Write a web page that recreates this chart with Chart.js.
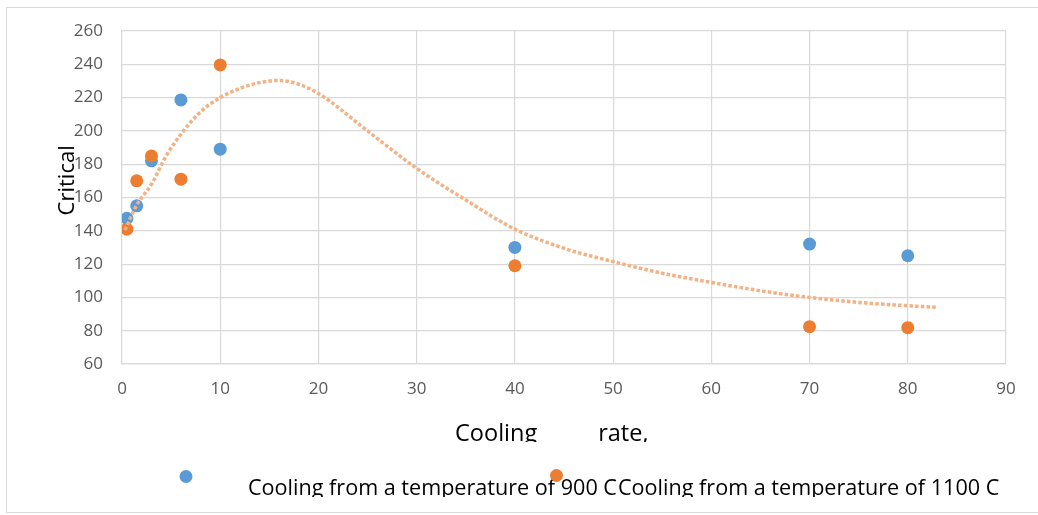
<!DOCTYPE html>
<html>
<head>
<meta charset="utf-8">
<script src="https://cdn.jsdelivr.net/npm/chart.js@4.4.1/dist/chart.umd.min.js"></script>
<style>
  html, body { margin: 0; padding: 0; background: #ffffff; }
  #wrap { width: 1038px; height: 515px; position: relative; }
</style>
</head>
<body>
<div id="wrap"><canvas id="c" width="1038" height="515"></canvas></div>
<script>
// ---- data ----
const coolingRates = [0.5, 1.5, 3, 6, 10, 40, 70, 80];
const critical900  = [147.5, 155, 182, 218.6, 189, 130, 132, 125];
const critical1100 = [141, 170, 185, 171, 239.6, 119, 82.4, 81.8];
const trendRates   = [0.3, 1.5, 3, 4.5, 6, 8, 10, 12, 14, 16, 18, 20, 25, 30, 35, 40, 45, 50, 55, 60, 65, 70, 75, 80, 83];
const trendValues  = [140.5, 155.5, 168, 185, 198, 211.5, 220, 225.5, 229, 230.3, 228, 222.5, 200, 177.5, 158.5, 141, 129.5, 121.5, 114.5, 109, 104, 100, 97, 95, 94];
const xTickValues  = [0, 10, 20, 30, 40, 50, 60, 70, 80, 90];
const yTickValues  = [60, 80, 100, 120, 140, 160, 180, 200, 220, 240, 260];
const seriesNames  = ['Cooling from a temperature of 900 C', 'Cooling from a temperature of 1100 C'];
const NB = '\u00A0';
const xTitle = 'Cooling' + ' '.repeat(10) + 'rate,' + NB.repeat(4);
const yTitle = NB.repeat(6) + 'Critical';

const pts = (xs, ys) => xs.map((x, i) => ({x: x, y: ys[i]}));

const BLUE = '#5B9BD5', ORANGE = '#ED7D31', TREND = '#F4B183';
const GRID = '#D9D9D9';
const FONT = "'Open Sans', 'Noto Sans', sans-serif";

const frameAndLegend = {
  id: 'frameAndLegend',
  beforeDraw(chart) {
    const ctx = chart.ctx;
    ctx.save();
    ctx.strokeStyle = GRID;
    ctx.lineWidth = 1;
    ctx.strokeRect(6.5, 7.5, 1100, 505);
    ctx.restore();
  },
  afterDraw(chart) {
    const ctx = chart.ctx;
    ctx.save();
    // mask mimicking the clipped x-axis title
    ctx.fillStyle = '#ffffff';
    ctx.fillRect(430, 442, 260, 12);
    // legend
    const items = [
      {dot: [186, 476.5], text: [248, 495], ds: 0},
      {dot: [556.5, 475.5], text: [618, 495], ds: 1}
    ];
    ctx.beginPath();
    ctx.rect(0, 0, 1038, 497);
    ctx.clip();
    items.forEach(it => {
      const ds = chart.data.datasets[it.ds];
      ctx.font = "21.6px " + FONT;
      ctx.fillStyle = '#000000';
      ctx.textBaseline = 'alphabetic';
      ctx.textAlign = 'left';
      ctx.fillText(ds.label, it.text[0], it.text[1]);
    });
    items.forEach(it => {
      const ds = chart.data.datasets[it.ds];
      ctx.fillStyle = ds.backgroundColor;
      ctx.beginPath();
      ctx.arc(it.dot[0], it.dot[1], 6.5, 0, Math.PI * 2);
      ctx.fill();
    });
    ctx.restore();
  }
};

new Chart(document.getElementById('c'), {
  type: 'scatter',
  data: {
    datasets: [
      {
        label: seriesNames[0],
        data: pts(coolingRates, critical900),
        backgroundColor: BLUE, borderColor: BLUE, borderWidth: 0,
        pointRadius: 6.5, pointHoverRadius: 6.5, order: 2
      },
      {
        label: seriesNames[1],
        data: pts(coolingRates, critical1100),
        backgroundColor: ORANGE, borderColor: ORANGE, borderWidth: 0,
        pointRadius: 6.5, pointHoverRadius: 6.5, order: 1
      },
      {
        type: 'line',
        label: 'trend',
        data: pts(trendRates, trendValues),
        borderColor: TREND, backgroundColor: TREND,
        borderWidth: 3.5, borderDash: [3.5, 2.2], borderCapStyle: 'butt',
        pointRadius: 0, cubicInterpolationMode: 'monotone', fill: false, order: 0
      }
    ]
  },
  options: {
    responsive: false,
    animation: false,
    layout: { padding: { left: 54, right: 32, top: 31, bottom: 0 } },
    plugins: { legend: { display: false }, tooltip: { enabled: false } },
    scales: {
      x: {
        type: 'linear', min: 0, max: 90,
        afterFit(s) { s.height = 151; },
        afterBuildTicks(s) { s.ticks = xTickValues.map(v => ({value: v})); },
        grid: { color: GRID, lineWidth: 1.2, drawTicks: false },
        border: { color: GRID, width: 1.2 },
        ticks: { color: '#595959', font: { family: FONT, size: 17 }, padding: 15, maxRotation: 0 },
        title: { display: true, text: xTitle, color: '#000000', font: { family: FONT, size: 23.5 }, padding: { top: 0, bottom: 67 } }
      },
      y: {
        type: 'linear', min: 60, max: 260,
        afterFit(s) { s.width = 68; },
        afterBuildTicks(s) { s.ticks = yTickValues.map(v => ({value: v})); },
        grid: { color: GRID, lineWidth: 1.2, drawTicks: false },
        border: { color: GRID, width: 1.2 },
        ticks: { color: '#595959', font: { family: FONT, size: 17 }, padding: 19 },
        title: { display: true, text: yTitle, color: '#000000', font: { family: FONT, size: 22 }, padding: { top: 1, bottom: 0 } }
      }
    }
  },
  plugins: [frameAndLegend]
});
</script>
</body>
</html>
